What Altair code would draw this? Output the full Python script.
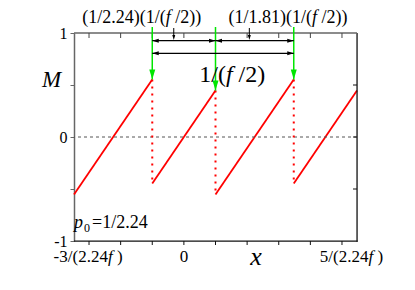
import altair as alt
import pandas as pd

# ---------------- data ----------------
x_ticks = [-3, -2, -1, 0, 1, 2, 3, 4, 5]
y_ticks = [-1, -0.5, 0, 0.5, 1]
right_ticks = [-0.5, 0, 0.5]
x_domain = [-3.475, 5.475]
y_domain = [-1, 1]
zero_level = [0]

# sawtooth segments (x in units of 1/(2.24 f))
seg_x0 = [-3.475, -1.0, 1.0, 3.475]
seg_x1 = [-1.0, 1.0, 3.475, 5.475]
seg_m0 = [-0.553, -0.446, -0.553, -0.446]
seg_m1 = [0.553, 0.446, 0.553, 0.446]

# jumps
jump_x = [-1.0, 1.0, 3.475]
jump_top = [0.553, 0.446, 0.553]
jump_bot = [-0.446, -0.553, -0.446]

# dimension arrows
dim_x0 = [-1.0, 1.0, -1.0]
dim_x1 = [1.0, 3.475, 3.475]
dim_m = [0.926, 0.926, 0.805]

# label pointer arrows
ptr_x = [-0.32, 2.07]

# label anchors
top_label_x = [-1.33, 3.29]
top_label_txt = ["(1/2.24)(1/(", "(1/1.81)(1/("]
period_label_x = [1.53]
xtick_label_x = [-3.03, 0.0, 5.3]
xtick_label_txt = ["-3/(2.24", "0", "5/(2.24"]
xtitle_x = [2.28]

FONT = "Liberation Serif"
W, H = 283, 208
xs = alt.Scale(domain=x_domain, nice=False, zero=False)
ys = alt.Scale(domain=y_domain, nice=False, zero=False)

YAX = alt.Axis(values=y_ticks, title=None, grid=False, tickSize=4, labelPadding=3,
               labelFont=FONT, labelFontSize=16, labelColor="black",
               domainColor="#666", domainWidth=1.5, tickColor="#666",
               labelExpr="datum.value == 1 ? '1' : datum.value == 0 ? '0' : datum.value == -1 ? '-1' : ''")


def X(f):
    return alt.X(f, scale=xs, axis=None, title=None)


def Y(f):
    return alt.Y(f, scale=ys, axis=YAX, title=None)


CW = {"(": .333, ")": .333, "/": .278, ".": .25, " ": .25, "-": .333, "=": .564,
      "f": .278, "p": .5, "x": .444, "M": .833}


def tw(s, size):
    return sum(CW.get(c, .5) for c in s) * size


def text_layers(pieces, size, xv, y_px, center=True, pixel_x=False):
    total = sum(tw(t, size) for t, _ in pieces)
    off = -total / 2 if center else 0
    out = []
    for t, it in pieces:
        lead = len(t) - len(t.lstrip(" "))
        s = t.strip(" ")
        if s:
            base = alt.Chart(pd.DataFrame({"a": [xv]})).mark_text(
                text=s, align="left", baseline="alphabetic", dx=off + tw(" " * lead, size),
                font=FONT, fontSize=size, fontStyle="italic" if it else "normal", color="black")
            if pixel_x:
                out.append(base.encode(x=alt.value(xv), y=alt.value(y_px)))
            else:
                out.append(base.encode(x=X("a:Q"), y=alt.value(y_px)))
        off += tw(t, size)
    return out


seg_df = pd.DataFrame({"x0": seg_x0, "x1": seg_x1, "m0": seg_m0, "m1": seg_m1})
jump_df = pd.DataFrame({"jx": jump_x, "top": jump_top, "bot": jump_bot})
dim_df = pd.DataFrame({"x0": dim_x0, "x1": dim_x1, "m": dim_m})
ptr_df = pd.DataFrame({"px": ptr_x})
xt_df = pd.DataFrame({"t": x_ticks})
one_df = pd.DataFrame({"a": [0]})

layers = []

# red sawtooth with y axis
layers.append(alt.Chart(seg_df).mark_rule(color="red", strokeWidth=1.8).encode(
    x=X("x0:Q"), x2="x1:Q", y=Y("m0:Q"), y2="m1:Q"))

# frame: bottom and right borders as thin filled rectangles
layers.append(alt.Chart(one_df).mark_rect(color="#111", opacity=1).encode(
    x=alt.value(0), x2=alt.value(W + 0.7), y=alt.value(H - 0.6), y2=alt.value(H + 0.7)))
layers.append(alt.Chart(one_df).mark_rect(color="#111", opacity=1).encode(
    x=alt.value(W - 0.6), x2=alt.value(W + 0.7), y=alt.value(0), y2=alt.value(H + 0.7)))

# zero line
layers.append(alt.Chart(pd.DataFrame({"m0": zero_level})).mark_rule(
    color="#555", strokeDash=[3, 3], strokeWidth=1).encode(y=Y("m0:Q")))

# dotted jumps
layers.append(alt.Chart(jump_df).mark_rule(color="red", strokeDash=[2, 5], strokeWidth=2).encode(
    x=X("jx:Q"), y=Y("top:Q"), y2="bot:Q"))

# top border gray
layers.append(alt.Chart(one_df).mark_rule(color="#666", strokeWidth=1.5).encode(
    x=alt.value(0), x2=alt.value(W), y=alt.value(0), y2=alt.value(0)))

# x ticks: bottom (outward, as ticks) and top (inward); right inner ticks
layers.append(alt.Chart(xt_df).mark_tick(color="#111", orient="vertical", size=4, thickness=1,
                                         opacity=1).encode(
    x=X("t:Q"), y=alt.value(H + 2)))
layers.append(alt.Chart(xt_df).mark_rule(color="#444").encode(
    x=X("t:Q"), y=alt.value(0), y2=alt.value(5)))
layers.append(alt.Chart(pd.DataFrame({"t": right_ticks})).mark_rule(color="#111").encode(
    y=Y("t:Q"), x=alt.value(W), x2=alt.value(W - 4)))

# green arrows
GREEN = "#00e600"
DOWN = "M0,0L-0.3,-1L0.3,-1Z"
RIGHT = "M0,0L-1,-0.3L-1,0.3Z"
LEFT = "M0,0L1,-0.3L1,0.3Z"
layers.append(alt.Chart(jump_df).mark_rule(color=GREEN, strokeWidth=1.5).encode(
    x=X("jx:Q"), y=Y("top:Q"), y2=alt.value(-6)))
layers.append(alt.Chart(jump_df).mark_point(shape=DOWN, size=400, filled=True, opacity=1,
                                            color=GREEN, strokeWidth=0).encode(
    x=X("jx:Q"), y=Y("top:Q")))

# dimension arrows
layers.append(alt.Chart(dim_df).mark_rule(color="black", strokeWidth=1.2).encode(
    x=X("x0:Q"), x2="x1:Q", y=Y("m:Q")))
layers.append(alt.Chart(dim_df).mark_point(shape=RIGHT, size=170, filled=True, opacity=1,
                                           color="black", strokeWidth=0).encode(
    x=X("x1:Q"), y=Y("m:Q")))
layers.append(alt.Chart(dim_df).mark_point(shape=LEFT, size=170, filled=True, opacity=1,
                                           color="black", strokeWidth=0).encode(
    x=X("x0:Q"), y=Y("m:Q")))

# pointer arrows
layers.append(alt.Chart(ptr_df).mark_rule(color="black", strokeWidth=1).encode(
    x=X("px:Q"), y=alt.value(-5), y2=alt.value(4)))
layers.append(alt.Chart(ptr_df).mark_point(shape=DOWN, size=100, filled=True, opacity=1,
                                           color="black", strokeWidth=0).encode(
    x=X("px:Q"), y=alt.value(7)))

# texts
for xv, t in zip(top_label_x, top_label_txt):
    layers += text_layers([(t, False), ("f", True), (" /2))", False)], 18, xv, -10)
layers += text_layers([("1/(", False), ("f", True), (" /2)", False)], 24, period_label_x[0], 49)
for xv, t in zip(xtick_label_x, xtick_label_txt):
    if t == "0":
        layers += text_layers([(t, False)], 17, xv, 229)
    else:
        layers += text_layers([(t, False), ("f", True), (" )", False)], 17, xv, 229)
layers += text_layers([("x", True)], 26, xtitle_x[0], 232)
layers += text_layers([("M", True)], 23, -32, 54, center=False, pixel_x=True)
layers += text_layers([("p", True)], 18, 0, 195, center=False, pixel_x=True)
layers += text_layers([("0", False)], 12, 10, 199, center=False, pixel_x=True)
layers += text_layers([("=1/2.24", False)], 18, 18, 195, center=False, pixel_x=True)

chart = alt.layer(*layers).properties(
    width=W, height=H,
    autosize=alt.AutoSizeParams(type="none"),
    padding={"left": 66, "top": 25, "right": 45, "bottom": 40},
    background="white",
).configure_view(stroke=None)

chart.save("out.html", embed_options={"renderer": "svg", "actions": False})
